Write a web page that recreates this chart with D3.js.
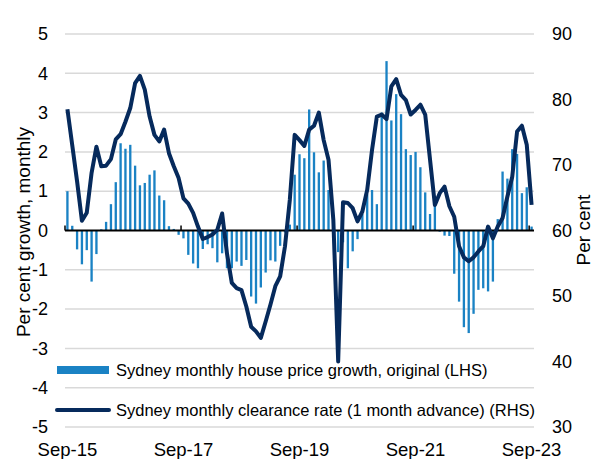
<!DOCTYPE html>
<html>
<head>
<meta charset="utf-8">
<script src="https://cdn.jsdelivr.net/npm/d3@7"></script>
<style>
  body { margin: 0; background: #fff; }
  svg { display: block; font-family: "Liberation Sans", Arial, sans-serif; }
</style>
</head>
<body>
<svg width="594" height="459"></svg>
<script>
// monthly categories Sep-15 .. Sep-23
var months = d3.timeMonth.range(new Date(2015, 8, 1), new Date(2023, 9, 1));

var xLabels = ["Sep-15", "Sep-17", "Sep-19", "Sep-21", "Sep-23"];
var leftTicks = [-5, -4, -3, -2, -1, 0, 1, 2, 3, 4, 5];
var rightTicks = [30, 40, 50, 60, 70, 80, 90];

// Sydney monthly house price growth, original (LHS), per cent
var priceGrowth = [
  1.0, 0.12, -0.48, -0.86, -0.5, -1.3, -0.6, 0.03, 0.22, 0.67, 1.23, 2.22,
  2.08, 2.18, 1.65, 1.15, 1.21, 1.42, 1.53, 0.89, 0.77, 0.11, 0.04, -0.11,
  -0.2, -0.62, -0.84, -0.96, -0.47, -0.35, -0.45, -0.81, -0.58, -0.96, -0.96, -0.79,
  -0.9, -0.75, -1.68, -1.86, -1.45, -1.07, -0.76, -0.79, -0.39, -0.05, 0.15, 1.42,
  1.94, 1.84, 3.08, 1.99, 1.48, 1.78, 1.03, 0.4, -0.55, -0.3, -0.96, -0.53,
  -0.22, 0.42, 0.92, 1.03, 0.67, 3.0, 4.31, 2.8, 3.47, 2.96, 2.07, 1.92,
  2.0, 1.61, 0.97, 0.42, 0.64, -0.03, -0.13, -0.14, -1.1, -1.81, -2.46, -2.61,
  -2.12, -1.51, -1.47, -1.55, -1.3, 0.29, 1.5, 1.32, 2.07, 1.95, 0.95, 1.1,
  0.1
];

// Sydney monthly clearance rate, 1 month advance (RHS), per cent
var clearance = [
  78.5, 73, 67.5, 61.5, 62.7, 68.8, 72.8, 69.8, 69.9, 70.9, 73.9, 74.7,
  76.6, 78.7, 82.5, 83.6, 81.5, 77.4, 74.6, 73.6, 75.4, 71.8, 69.8, 68.0,
  64.9, 64.1, 62.7, 60.6, 58.7, 59.0, 59.4, 60.1, 62.6, 56.5, 52.0, 51.2,
  50.9, 48.4, 45.3, 44.6, 43.6, 46.1, 48.7, 51.5, 53.0, 57.6, 64.7, 74.6,
  73.8, 72.9, 75.4, 76.0, 78.0, 73.8, 70.8, 61.6, 40.0, 64.3, 64.2, 63.4,
  61.4, 62.9, 66.2, 72.3, 77.4, 77.7, 77.0, 82.0, 83.1, 80.7, 79.9, 77.7,
  78.4, 79.2, 77.7, 70.8, 63.9, 65.7, 66.7, 63.7, 62.1, 57.6, 55.9, 55.3,
  55.9, 56.8, 57.6, 60.6, 58.8, 60.6, 61.9, 65.2, 68.2, 75.1, 76.0, 73.1,
  63.9
];

var barColor = "#1a82c4",
    lineColor = "#062a5c",
    gridColor = "#d9d9d9";

var svg = d3.select("svg"),
    plotLeft = 65, plotRight = 534, plotTop = 34, plotBottom = 427;

var fmt = d3.timeFormat("%b-%y");

var x = d3.scaleBand()
    .domain(months)
    .range([plotLeft, plotRight])
    .paddingInner(0.52)
    .paddingOuter(0.26);

var yL = d3.scaleLinear().domain([-5, 5]).range([plotBottom, plotTop]);
var yR = d3.scaleLinear().domain([30, 90]).range([plotBottom, plotTop]);

var step = x.step(), bw = x.bandwidth();
function cx(d) { return x(d) + bw / 2; }

// gridlines
svg.append("g")
  .selectAll("line")
  .data(leftTicks.filter(function(d) { return d !== 0; }))
  .enter().append("line")
    .attr("x1", plotLeft).attr("x2", plotRight)
    .attr("y1", function(d) { return yL(d); })
    .attr("y2", function(d) { return yL(d); })
    .attr("stroke", gridColor)
    .attr("stroke-width", 1.5);

// bars
svg.append("g")
  .selectAll("rect")
  .data(priceGrowth)
  .enter().append("rect")
    .attr("x", function(d, i) { return x(months[i]); })
    .attr("width", bw)
    .attr("y", function(d) { return d >= 0 ? yL(d) : yL(0); })
    .attr("height", function(d) { return Math.abs(yL(d) - yL(0)); })
    .attr("fill", barColor);

// zero axis with ticks between categories
svg.append("line")
    .attr("x1", plotLeft).attr("x2", plotRight)
    .attr("y1", yL(0)).attr("y2", yL(0))
    .attr("stroke", "#000")
    .attr("stroke-width", 2);

var labelMonths = months.filter(function(d) { return xLabels.indexOf(fmt(d)) >= 0; });

svg.append("g")
  .selectAll("line")
  .data(labelMonths)
  .enter().append("line")
    .attr("x1", function(d) { return x(d) - (step - bw) / 2; })
    .attr("x2", function(d) { return x(d) - (step - bw) / 2; })
    .attr("y1", yL(0)).attr("y2", yL(0) - 5)
    .attr("stroke", "#000")
    .attr("stroke-width", 1.5);

// clearance rate line
var line = d3.line()
    .x(function(d, i) { return cx(months[i]); })
    .y(function(d) { return yR(d); });

svg.append("path")
    .datum(clearance)
    .attr("fill", "none")
    .attr("stroke", lineColor)
    .attr("stroke-width", 4)
    .attr("stroke-linejoin", "round")
    .attr("d", line);

// left axis
var gl = svg.append("g")
    .attr("transform", "translate(" + plotLeft + ",0)")
    .call(d3.axisLeft(yL).tickValues(leftTicks).tickSize(0).tickPadding(17)
      .tickFormat(function(d) { return String(d); }));
gl.select(".domain").remove();
gl.selectAll("text").attr("font-size", 18).attr("fill", "#000")
  .attr("font-family", "Liberation Sans, Arial, sans-serif");

// right axis
var gr = svg.append("g")
    .attr("transform", "translate(" + plotRight + ",0)")
    .call(d3.axisRight(yR).tickValues(rightTicks).tickSize(0).tickPadding(18));
gr.select(".domain").remove();
gr.selectAll("text").attr("font-size", 18).attr("fill", "#000")
  .attr("font-family", "Liberation Sans, Arial, sans-serif");

// x labels
var gx = svg.append("g")
    .attr("transform", "translate(0,439)")
    .call(d3.axisBottom(x).tickValues(labelMonths).tickSize(0).tickPadding(4)
      .tickFormat(fmt));
gx.select(".domain").remove();
gx.selectAll("text").attr("font-size", 18.5).attr("fill", "#000")
  .attr("font-family", "Liberation Sans, Arial, sans-serif");

// axis titles
svg.append("text")
    .attr("transform", "translate(23,232) rotate(-90)")
    .attr("text-anchor", "middle")
    .attr("dominant-baseline", "central")
    .attr("font-size", 19)
    .text("Per cent growth, monthly");

svg.append("text")
    .attr("transform", "translate(583,230) rotate(-90)")
    .attr("text-anchor", "middle")
    .attr("dominant-baseline", "central")
    .attr("font-size", 19)
    .text("Per cent");

// legend
svg.append("rect")
    .attr("x", 57).attr("y", 366)
    .attr("width", 52).attr("height", 8)
    .attr("fill", barColor);
svg.append("text")
    .attr("x", 116).attr("y", 370)
    .attr("dy", "0.35em")
    .attr("font-size", 16.5)
    .text("Sydney monthly house price growth, original (LHS)");

svg.append("line")
    .attr("x1", 57).attr("x2", 109)
    .attr("y1", 410).attr("y2", 410)
    .attr("stroke", lineColor)
    .attr("stroke-width", 4)
    .attr("stroke-linecap", "round");
svg.append("text")
    .attr("x", 116).attr("y", 410)
    .attr("dy", "0.35em")
    .attr("font-size", 16.5)
    .text("Sydney monthly clearance rate (1 month advance) (RHS)");
</script>
</body>
</html>
